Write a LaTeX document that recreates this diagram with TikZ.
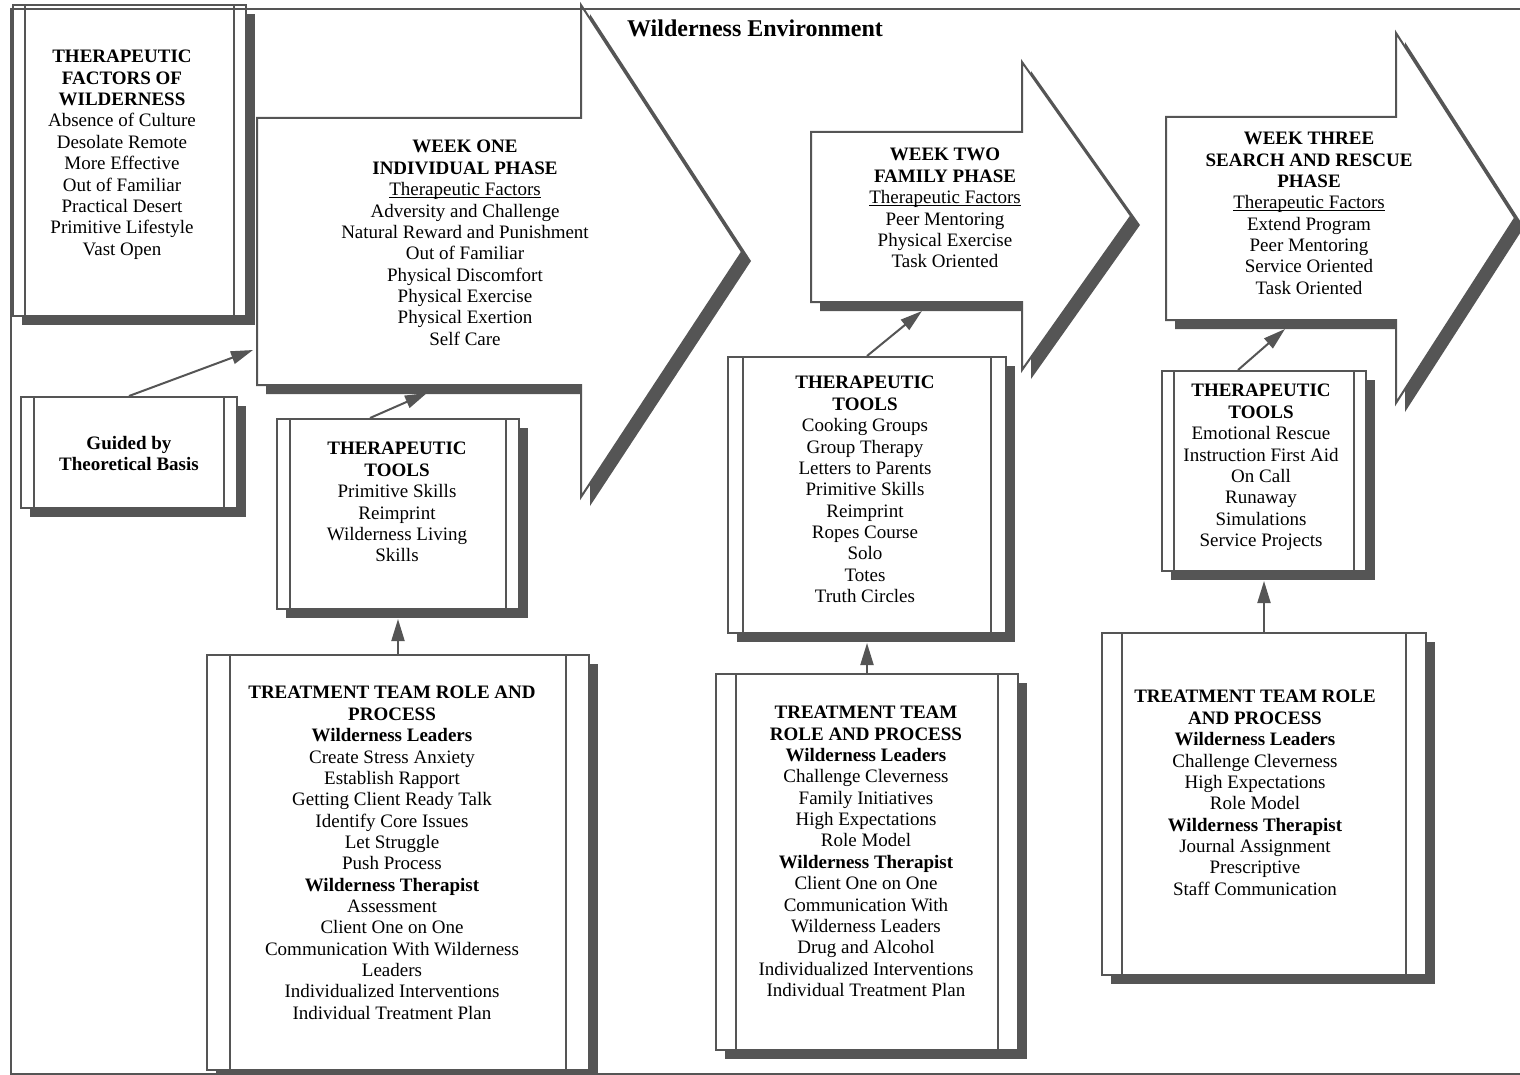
\documentclass[tikz,border=0pt]{standalone}
\usepackage{fontspec}
\setmainfont{Liberation Serif}
\usetikzlibrary{shadows,fit,arrows.meta,positioning}

\definecolor{linegray}{HTML}{555555}
\definecolor{shadowgray}{HTML}{555555}

% underline that sits close to the baseline
\newcommand{\factorsline}[1]{\setbox0\hbox{#1}\rlap{\rule[-1.3pt]{\wd0}{0.5pt}}\box0}

\tikzset{
  castshadow/.style={drop shadow={shadow xshift=4.5pt, shadow yshift=-4.5pt, fill=shadowgray, opacity=1}},
  phase/.style={draw=linegray, line width=1pt, fill=white, castshadow},
  procbox/.style={draw=linegray, line width=1pt, fill=white, inner sep=0pt, castshadow,
    path picture={
      \draw[linegray, line width=1pt]
        ([xshift=#1]path picture bounding box.north west) -- ([xshift=#1]path picture bounding box.south west)
        ([xshift=-#1]path picture bounding box.north east) -- ([xshift=-#1]path picture bounding box.south east);
    }},
  txt/.style={align=center, anchor=north, inner sep=0pt, font=\fontsize{9.5}{10.67}\selectfont},
  conn/.style={draw=linegray, line width=1pt, -{Triangle[length=11pt,width=6.5pt]}}
}

\begin{document}
\begin{tikzpicture}[x=0.5pt,y=-0.5pt]
  \clip (0,0) rectangle (1520,1075);

  % Phase arrows
  \draw[phase] (257,118) -- (581,118) -- (581,5) -- (742,252) -- (581,497) -- (581,385) -- (257,385) -- cycle;
  \draw[phase] (811,132) -- (1022,132) -- (1022,62) -- (1131,216) -- (1022,370) -- (1022,302) -- (811,302) -- cycle;
  \draw[phase] (1166,117) -- (1396,117) -- (1396,33) -- (1515,218) -- (1396,403) -- (1396,320) -- (1166,320) -- cycle;
  \coordinate (onein) at (427,393);
  \coordinate (onefront) at (253,350);
  \coordinate (twoin) at (922,311);
  \coordinate (threein) at (1285,329);

  \node[txt] (onetxt) at (465,140) {\textbf{WEEK ONE}\\\textbf{INDIVIDUAL PHASE}\\\factorsline{Therapeutic Factors}\\Adversity and Challenge\\Natural Reward and Punishment\\Out of Familiar\\Physical Discomfort\\Physical Exercise\\Physical Exertion\\Self Care};
  \node[txt] (twotxt) at (945,148) {\textbf{WEEK TWO}\\\textbf{FAMILY PHASE}\\\factorsline{Therapeutic Factors}\\Peer Mentoring\\Physical Exercise\\Task Oriented};
  \node[txt] (threetxt) at (1309,132) {\textbf{WEEK THREE}\\\textbf{SEARCH AND RESCUE}\\\textbf{PHASE}\\\factorsline{Therapeutic Factors}\\Extend Program\\Peer Mentoring\\Service Oriented\\Task Oriented};

  % Boxes
  \node[procbox=6pt, fit={(13,5) (246,316)}] (factors) {};
  \node[txt] at (122,50) {\textbf{THERAPEUTIC}\\\textbf{FACTORS OF}\\\textbf{WILDERNESS}\\Absence of Culture\\Desolate Remote\\More Effective\\Out of Familiar\\Practical Desert\\Primitive Lifestyle\\Vast Open};

  \node[procbox=6.5pt, fit={(21,397) (237,508)}] (guided) {};
  \node[txt] at (129,436) {\textbf{Guided by}\\\textbf{Theoretical Basis}};

  \node[procbox=6.5pt, fit={(277,419) (519,609)}] (tools1) {};
  \node[txt] at (397,442) {\textbf{THERAPEUTIC}\\\textbf{TOOLS}\\Primitive Skills\\Reimprint\\Wilderness Living\\Skills};

  \node[procbox=7.5pt, fit={(728,357) (1006,633)}] (tools2) {};
  \node[txt] at (865,376) {\textbf{THERAPEUTIC}\\\textbf{TOOLS}\\Cooking Groups\\Group Therapy\\Letters to Parents\\Primitive Skills\\Reimprint\\Ropes Course\\Solo\\Totes\\Truth Circles};

  \node[procbox=6pt, fit={(1162,371) (1366,571)}] (tools3) {};
  \node[txt] at (1261,384) {\textbf{THERAPEUTIC}\\\textbf{TOOLS}\\Emotional Rescue\\Instruction First Aid\\On Call\\Runaway\\Simulations\\Service Projects};

  \node[procbox=11.5pt, fit={(207,655) (589,1070)}] (team1) {};
  \node[txt] at (392,686) {\textbf{TREATMENT TEAM ROLE AND}\\\textbf{PROCESS}\\\textbf{Wilderness Leaders}\\Create Stress Anxiety\\Establish Rapport\\Getting Client Ready Talk\\Identify Core Issues\\Let Struggle\\Push Process\\\textbf{Wilderness Therapist}\\Assessment\\Client One on One\\Communication With Wilderness\\Leaders\\Individualized Interventions\\Individual Treatment Plan};

  \node[procbox=10pt, fit={(716,674) (1018,1050)}] (team2) {};
  \node[txt] at (866,706) {\textbf{TREATMENT TEAM}\\\textbf{ROLE AND PROCESS}\\\textbf{Wilderness Leaders}\\Challenge Cleverness\\Family Initiatives\\High Expectations\\Role Model\\\textbf{Wilderness Therapist}\\Client One on One\\Communication With\\Wilderness Leaders\\Drug and Alcohol\\Individualized Interventions\\Individual Treatment Plan};

  \node[procbox=10pt, fit={(1102,633) (1426,975)}] (team3) {};
  \node[txt] at (1255,690) {\textbf{TREATMENT TEAM ROLE}\\\textbf{AND PROCESS}\\\textbf{Wilderness Leaders}\\Challenge Cleverness\\High Expectations\\Role Model\\\textbf{Wilderness Therapist}\\Journal Assignment\\Prescriptive\\Staff Communication};

  % Connectors
  \draw[conn] (guided.north) -- (onefront);
  \draw[conn] ([xshift=-14pt]tools1.north) -- (onein);
  \draw[conn] (tools2.north) -- (twoin);
  \draw[conn] ([xshift=-13pt]tools3.north) -- (threein);
  \draw[conn] (team1.north) -- ([yshift=-4.5pt]tools1.south);
  \draw[conn] (team2.north) -- ([yshift=-4.5pt]tools2.south);
  \draw[conn] (team3.north) -- ([yshift=-4.5pt]tools3.south);

  % Environment frame
  \draw[linegray, line width=1pt] (11,9) rectangle (1540,1074);
  \node[font=\fontsize{12}{14}\selectfont\bfseries] (title) at (755,28) {Wilderness Environment};
\end{tikzpicture}
\end{document}
